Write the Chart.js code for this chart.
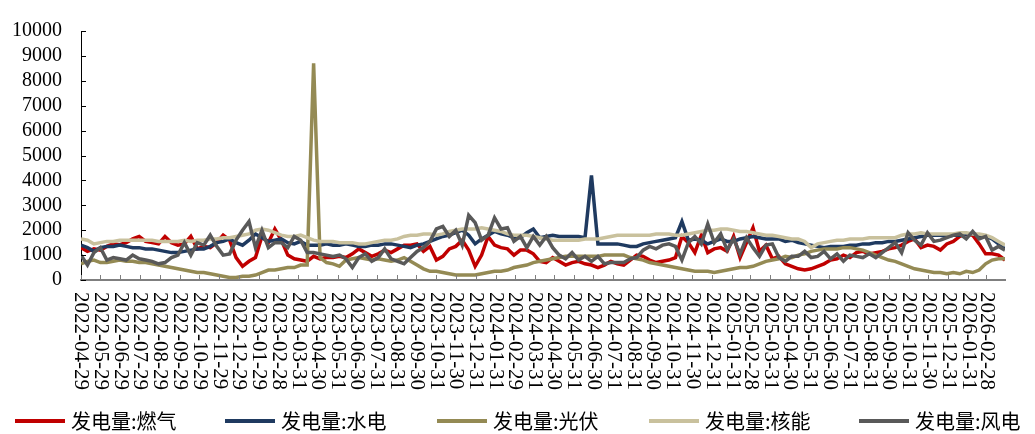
<!DOCTYPE html>
<html>
<head>
<meta charset="utf-8">
<script src="https://cdn.jsdelivr.net/npm/chart.js@4"></script>
<style>
    html, body { margin: 0; padding: 0; background: #fff; }
    #wrap { width: 1035px; height: 434px; }
</style>
</head>
<body>
<div id="wrap"><canvas id="powerChart" width="1035" height="434"></canvas></div>
<script>
/* DATA */
const startDate = "2022-04-29";
const stepDays = 10;

const tickLabels = [
    "2022-04-29", "2022-05-29", "2022-06-29", "2022-07-29", "2022-08-29", "2022-09-29",
    "2022-10-29", "2022-11-29", "2022-12-29", "2023-01-29", "2023-02-28", "2023-03-31",
    "2023-04-30", "2023-05-31", "2023-06-30", "2023-07-31", "2023-08-31", "2023-09-30",
    "2023-10-31", "2023-11-30", "2023-12-31", "2024-01-31", "2024-02-29", "2024-03-31",
    "2024-04-30", "2024-05-31", "2024-06-30", "2024-07-31", "2024-08-31", "2024-09-30",
    "2024-10-31", "2024-11-30", "2024-12-31", "2025-01-31", "2025-02-28", "2025-03-31",
    "2025-04-30", "2025-05-31", "2025-06-30", "2025-07-31", "2025-08-31", "2025-09-30",
    "2025-10-31", "2025-11-30", "2025-12-31", "2026-01-31", "2026-02-28"
];

const seriesNames = ["发电量:燃气", "发电量:水电", "发电量:光伏", "发电量:核能", "发电量:风电"];
const seriesColors = ["#c00000", "#1f3a60", "#948a54", "#c9c19d", "#595959"];

const gasValues = [
    1300, 1150, 1250, 1200, 1350, 1450, 1420, 1500, 1650, 1750,
    1550, 1500, 1450, 1750, 1500, 1400, 1450, 1750, 1250, 1350,
    1300, 1500, 1800, 1600, 900, 550, 750, 900, 1750, 1500,
    2050, 1600, 1000, 850, 800, 750, 950, 850, 900, 900,
    950, 900, 1050, 1250, 1100, 950, 1050, 1200, 1100, 1250,
    1400, 1400, 1450, 1150, 1350, 800, 950, 1250, 1350, 1600,
    1200, 550, 1000, 1750, 1400, 1300, 1250, 1000, 1200, 1200,
    1050, 750, 700, 900, 750, 600, 700, 750, 650, 600,
    500, 600, 750, 650, 600, 800, 1000, 950, 800, 700,
    750, 800, 900, 1750, 1500, 1100, 1800, 1100, 1250, 1300,
    1150, 1750, 900, 1500, 2100, 1150, 1400, 850, 950, 650,
    550, 450, 400, 450, 550, 650, 800, 850, 1000, 900,
    1100, 1150, 1050, 1100, 1150, 1250, 1300, 1400, 1550, 1650,
    1300, 1400, 1350, 1200, 1450, 1550, 1750, 1850, 1800, 1450,
    1050, 1050, 1000, 800
];

const hydroValues = [
    1400, 1300, 1150, 1300, 1350, 1350, 1400, 1350, 1300, 1300,
    1250, 1250, 1200, 1150, 1100, 1100, 1150, 1200, 1250, 1250,
    1350, 1500, 1550, 1650, 1500, 1400, 1600, 1850, 1700, 1550,
    1600, 1650, 1500, 1450, 1550, 1400, 1400, 1400, 1450, 1400,
    1400, 1450, 1400, 1350, 1350, 1400, 1400, 1450, 1450, 1400,
    1350, 1300, 1400, 1450, 1550, 1650, 1750, 1800, 1900, 2000,
    1800, 1450, 1650, 1800, 1950, 1850, 1800, 1700, 1700, 1900,
    2050, 1700, 1750, 1800, 1750, 1750, 1750, 1750, 1700, 4200,
    1450, 1450, 1450, 1450, 1400, 1350, 1350, 1450, 1500, 1550,
    1600, 1650, 1700, 2350, 1600, 1650, 1600, 1450, 1550, 1650,
    1550, 1550, 1650, 1700, 1750, 1700, 1650, 1650, 1650, 1550,
    1600, 1500, 1450, 1400, 1350, 1300, 1350, 1350, 1350, 1400,
    1400, 1450, 1450, 1500, 1500, 1550, 1550, 1600, 1650, 1700,
    1750, 1800, 1800, 1800, 1750, 1800, 1800, 1850, 1850, 1800,
    1750, 1650, 1450, 1250
];

const solarValues = [
    650, 750, 800, 700, 700, 750, 800, 750, 750, 700,
    700, 650, 600, 550, 500, 450, 400, 350, 300, 300,
    250, 200, 150, 100, 100, 150, 150, 200, 300, 400,
    400, 450, 500, 500, 600, 600, 8700, 900, 700, 650,
    550, 800, 850, 900, 850, 800, 850, 800, 750, 800,
    900, 750, 600, 450, 350, 350, 300, 250, 200, 200,
    200, 200, 250, 300, 350, 350, 400, 500, 550, 600,
    700, 750, 800, 850, 900, 950, 950, 950, 950, 950,
    950, 1000, 1000, 1000, 1000, 900, 850, 800, 700, 650,
    600, 550, 500, 450, 400, 350, 350, 350, 300, 350,
    400, 450, 500, 500, 550, 650, 750, 800, 850, 950,
    900, 1000, 1050, 1150, 1200, 1250, 1250, 1250, 1300, 1300,
    1250, 1200, 1100, 1000, 900, 800, 750, 650, 550, 450,
    400, 350, 300, 300, 250, 300, 250, 350, 300, 400,
    650, 800, 850, 850
];

const nuclearValues = [
    1650, 1600, 1450, 1500, 1550, 1550, 1600, 1600, 1600, 1600,
    1600, 1600, 1550, 1550, 1550, 1550, 1600, 1550, 1600, 1600,
    1650, 1650, 1700, 1700, 1750, 1800, 1850, 2000, 2050, 2000,
    1900, 1800, 1750, 1750, 1800, 1700, 1600, 1550, 1550, 1550,
    1500, 1500, 1500, 1450, 1450, 1500, 1550, 1600, 1600, 1650,
    1750, 1800, 1800, 1850, 1850, 1800, 1850, 1950, 2000, 2050,
    2050, 2050, 2100, 2050, 2000, 1950, 1850, 1800, 1800, 1800,
    1750, 1700, 1650, 1600, 1600, 1600, 1600, 1600, 1650, 1650,
    1650, 1700, 1750, 1800, 1800, 1800, 1800, 1800, 1800, 1850,
    1850, 1850, 1800, 1800, 1850, 1900, 1950, 2000, 2000, 2050,
    2050, 2000, 1950, 1950, 1900, 1850, 1800, 1800, 1750, 1700,
    1650, 1650, 1550, 1300, 1450, 1500, 1550, 1600, 1600, 1650,
    1650, 1650, 1700, 1700, 1700, 1700, 1700, 1800, 1850, 1850,
    1900, 1850, 1850, 1850, 1850, 1850, 1900, 1900, 1850, 1850,
    1800, 1700, 1550, 1400
];

const windValues = [
    1000, 600, 1100, 1300, 800, 900, 850, 800, 1000, 850,
    800, 750, 650, 700, 900, 1000, 1500, 1000, 1500, 1400,
    1800, 1350, 1000, 1050, 1600, 2000, 2350, 1300, 2000, 1300,
    1500, 1500, 1300, 1750, 1600, 1100, 1100, 1050, 1000, 950,
    1000, 850, 500, 900, 1050, 750, 900, 1250, 850, 750,
    650, 900, 1150, 1300, 1550, 2050, 2150, 1750, 2000, 1400,
    2600, 2300, 1600, 1800, 2500, 2050, 2100, 1550, 1750, 1300,
    1750, 1400, 1750, 1300, 1000, 850, 1100, 800, 950, 750,
    950, 650, 700, 700, 700, 850, 900, 1200, 1350, 1250,
    1400, 1450, 1350, 800, 1500, 1750, 1450, 2250, 1500, 1850,
    1200, 1650, 1050, 1700, 1300, 950, 1400, 1450, 900, 750,
    950, 950, 1150, 900, 950, 1150, 850, 1050, 750, 1000,
    950, 900, 1050, 900, 1100, 1300, 1500, 1100, 1900, 1600,
    1400, 1900, 1550, 1600, 1700, 1800, 1850, 1650, 1950, 1650,
    1750, 1200, 1350, 1200
];

const seriesValues = [gasValues, hydroValues, solarValues, nuclearValues, windValues];

/* HELPERS */
const dayMs = 24 * 3600 * 1000;
const startMs = Date.parse(startDate + "T00:00:00Z");
const dayOf = (s) => Math.round((Date.parse(s + "T00:00:00Z") - startMs) / dayMs);
const tickDays = tickLabels.map(dayOf);
const lastDay = (gasValues.length - 1) * stepDays;

const serif = "'Liberation Serif', 'Times New Roman', serif";
const cjk = "'Noto Sans CJK SC', sans-serif";

/* CUSTOM AXIS DECOR + LEGEND */
const decorPlugin = {
    id: "decor",
    afterDraw(chart) {
        const ctx = chart.ctx;
        const x = chart.scales.x;
        const y = chart.scales.y;
        const area = chart.chartArea;

        ctx.save();

        // x tick marks (inside)
        ctx.strokeStyle = "#7f7f7f";
        ctx.lineWidth = 1;
        tickDays.forEach(d => {
            const px = Math.round(x.getPixelForValue(d)) + 0.5;
            ctx.beginPath();
            ctx.moveTo(px, area.bottom - 5);
            ctx.lineTo(px, area.bottom);
            ctx.stroke();
        });

        // y tick marks (inside)
        ctx.strokeStyle = "#000";
        for (let v = 0; v <= 10000; v += 1000) {
            const py = Math.round(y.getPixelForValue(v)) + 0.5;
            ctx.beginPath();
            ctx.moveTo(area.left, py);
            ctx.lineTo(area.left + 5, py);
            ctx.stroke();
        }

        // x labels, rotated to read top to bottom
        ctx.fillStyle = "#000";
        ctx.font = "21px " + serif;
        ctx.textAlign = "left";
        ctx.textBaseline = "middle";
        tickLabels.forEach((lab, i) => {
            const px = x.getPixelForValue(tickDays[i]);
            ctx.save();
            ctx.translate(px, area.bottom + 12);
            ctx.rotate(Math.PI / 2);
            ctx.fillText(lab, 0, 0);
            ctx.restore();
        });

        // legend
        const legendX = [15, 225, 437, 649, 859];
        const legendY = 421;
        ctx.font = "20px " + cjk;
        seriesNames.forEach((name, i) => {
            const lx = legendX[i];
            ctx.strokeStyle = seriesColors[i];
            ctx.lineWidth = 4;
            ctx.beginPath();
            ctx.moveTo(lx, legendY);
            ctx.lineTo(lx + 50, legendY);
            ctx.stroke();
            ctx.fillStyle = "#000";
            ctx.fillText(name, lx + 56, legendY);
        });

        ctx.restore();
    }
};

/* CHART */
const chart = new Chart(document.getElementById("powerChart"), {
    type: "line",
    data: {
        datasets: seriesNames.map((name, i) => ({
            label: name,
            data: seriesValues[i].map((v, j) => ({ x: j * stepDays, y: v })),
            borderColor: seriesColors[i],
            backgroundColor: seriesColors[i],
            borderWidth: 3.5,
            pointRadius: 0,
            tension: 0,
            order: seriesNames.length - i
        }))
    },
    options: {
        responsive: false,
        animation: false,
        layout: {
            padding: { left: 12, right: 30, top: 17, bottom: 42 }
        },
        plugins: {
            legend: { display: false },
            tooltip: { enabled: false }
        },
        scales: {
            x: {
                type: "linear",
                min: 0,
                max: lastDay,
                afterBuildTicks: (scale) => {
                    scale.ticks = tickDays.map(d => ({ value: d }));
                },
                afterFit: (scale) => {
                    scale.height = 112;
                },
                ticks: { display: false },
                grid: { display: false },
                border: { display: true, color: "#7f7f7f", width: 2 }
            },
            y: {
                min: 0,
                max: 10000,
                afterFit: (scale) => {
                    scale.width = 69;
                },
                ticks: {
                    stepSize: 1000,
                    autoSkip: false,
                    color: "#000",
                    padding: 19,
                    font: { family: serif, size: 20 },
                    callback: (v) => String(v)
                },
                grid: { display: false, drawTicks: false },
                border: { display: true, color: "#000", width: 1 }
            }
        }
    },
    plugins: [decorPlugin]
});
</script>
</body>
</html>
